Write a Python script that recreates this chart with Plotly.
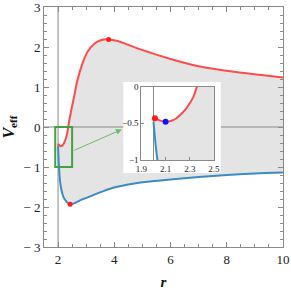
import plotly.graph_objects as go

# ---- data ----
r_upper = [2.0, 2.012, 2.05, 2.1, 2.15, 2.19, 2.23, 2.27, 2.33, 2.36, 2.45, 2.57, 2.69,
           2.87, 3.05, 3.29, 3.52, 3.8, 4.12, 4.36, 4.93, 6.0, 7.0, 8.26, 10.0]
v_upper = [-0.47, -0.43, -0.46, -0.48, -0.465, -0.43, -0.37, -0.30, -0.14, 0.0, 0.35, 0.76, 1.17,
           1.59, 1.88, 2.08, 2.17, 2.19, 2.15, 2.09, 1.94, 1.70, 1.52, 1.38, 1.24]
r_lower = [2.0, 2.01, 2.02, 2.033, 2.06, 2.1, 2.15, 2.2, 2.3, 2.43, 2.6, 2.8, 3.05, 3.4,
           3.9, 4.4, 4.93, 6.0, 7.0, 8.0, 9.0, 10.0]
v_lower = [-0.48, -0.66, -0.83, -1.0, -1.28, -1.5, -1.66, -1.76, -1.87, -1.93, -1.9, -1.83, -1.76, -1.66,
           -1.53, -1.45, -1.39, -1.31, -1.25, -1.2, -1.16, -1.14]
main_red_pts_r = [3.8, 2.43]
main_red_pts_v = [2.19, -1.93]
inset_red_pt = ([2.012], [-0.43])
inset_blue_pt = ([2.1], [-0.48])

x_ticks = [2, 4, 6, 8, 10]
y_ticks = [-3, -2, -1, 0, 1, 2, 3]
y_ticktext = ["\u2212 3", "\u2212 2", "\u2212 1", "0", "1", "2", "3"]
ix_ticks = [1.9, 2.1, 2.3, 2.5]
iy_ticks = [-1, -0.5, 0]
iy_ticktext = ["\u22121", "\u22120.5", "0"]

RED = "#ff4b4b"
BLUE = "#3a8cc2"
FILL = "#e4e4e4"
GRID = "#8a8a8a"
FONT = "Liberation Serif"

fig = go.Figure()

def add_fill(xa, ya):
    fig.add_trace(go.Scatter(x=r_lower, y=v_lower, mode="lines", line=dict(width=0, shape="spline", smoothing=0.8),
                             xaxis=xa, yaxis=ya, hoverinfo="skip"))
    fig.add_trace(go.Scatter(x=r_upper, y=v_upper, mode="lines", line=dict(width=0, shape="spline", smoothing=0.8),
                             fill="tonexty", fillcolor=FILL, xaxis=xa, yaxis=ya, hoverinfo="skip"))

# main fill
add_fill("x", "y")
# reference lines (main)
fig.add_trace(go.Scatter(x=[1.5, 10], y=[0, 0], mode="lines", line=dict(color=GRID, width=1), xaxis="x", yaxis="y"))
fig.add_trace(go.Scatter(x=[2, 2], y=[-3, 3], mode="lines", line=dict(color=GRID, width=1), xaxis="x", yaxis="y"))
# main curves
fig.add_trace(go.Scatter(x=r_lower, y=v_lower, mode="lines", line=dict(color=BLUE, width=2, shape="spline", smoothing=0.8),
                         xaxis="x", yaxis="y"))
fig.add_trace(go.Scatter(x=r_upper, y=v_upper, mode="lines", line=dict(color=RED, width=2, shape="spline", smoothing=0.8),
                         xaxis="x", yaxis="y"))
fig.add_trace(go.Scatter(x=main_red_pts_r, y=main_red_pts_v, mode="markers", marker=dict(color="#ff1a1a", size=5),
                         xaxis="x", yaxis="y"))
# white backdrop for inset
fig.add_trace(go.Scatter(x=[4.32, 7.79, 7.79, 4.32, 4.32], y=[-1.15, -1.15, 1.125, 1.125, -1.15], mode="lines",
                         fill="toself", fillcolor="white", line=dict(width=0), xaxis="x", yaxis="y"))

# inset
add_fill("x2", "y2")
fig.add_trace(go.Scatter(x=[2, 2], y=[-1, 0], mode="lines", line=dict(color=GRID, width=1), xaxis="x2", yaxis="y2"))
fig.add_trace(go.Scatter(x=r_lower, y=v_lower, mode="lines", line=dict(color=BLUE, width=2, shape="spline", smoothing=0.8),
                         xaxis="x2", yaxis="y2"))
fig.add_trace(go.Scatter(x=r_upper, y=v_upper, mode="lines", line=dict(color=RED, width=2, shape="spline", smoothing=0.8),
                         xaxis="x2", yaxis="y2"))
fig.add_trace(go.Scatter(x=inset_red_pt[0], y=inset_red_pt[1], mode="markers", marker=dict(color="#ff1a1a", size=6),
                         xaxis="x2", yaxis="y2"))
fig.add_trace(go.Scatter(x=inset_blue_pt[0], y=inset_blue_pt[1], mode="markers", marker=dict(color="#1010ff", size=6),
                         xaxis="x2", yaxis="y2"))

axis_common = dict(showgrid=False, zeroline=False, showline=True, linecolor=GRID, linewidth=1, automargin=False,
                   ticklabeloverflow="allow",
                   mirror="ticks", ticks="inside", tickcolor=GRID, tickfont=dict(family=FONT, size=13, color="#222"))

fig.update_layout(
    width=291, height=291,
    margin=dict(l=44, r=8, t=7, b=44),
    paper_bgcolor="white", plot_bgcolor="white",
    showlegend=False,
    xaxis=dict(range=[1.5, 10], tickvals=x_ticks, ticklen=5,
               minor=dict(dtick=0.5, ticklen=3, tickcolor=GRID, ticks="inside"),
               title=dict(text="<b><i>r</i></b>", font=dict(family=FONT, size=15, color="#111"), standoff=10),
               **axis_common),
    yaxis=dict(range=[-3, 3], tickvals=y_ticks, ticktext=y_ticktext, ticklen=5,
               minor=dict(dtick=0.2, ticklen=3, tickcolor=GRID, ticks="inside"),
               title=dict(text="<b><i>V</i><sub>eff</sub></b>", font=dict(family=FONT, size=16, color="#111"), standoff=6),
               **axis_common),
    xaxis2=dict(domain=[0.4075, 0.711], anchor="y2", range=[1.9, 2.5], tickvals=ix_ticks, ticklen=3, automargin=False,
                ticklabeloverflow="allow",
                showgrid=False, zeroline=False, showline=True, linecolor=GRID, mirror=True, ticks="inside",
                tickcolor=GRID, tickfont=dict(family=FONT, size=9, color="#222")),
    yaxis2=dict(domain=[0.3625, 0.668], anchor="x2", range=[-1, 0], tickvals=iy_ticks, ticktext=iy_ticktext, ticklen=3,
                automargin=False, ticklabeloverflow="allow",
                showgrid=False, zeroline=False, showline=True, linecolor=GRID, mirror=True, ticks="inside",
                tickcolor=GRID, tickfont=dict(family=FONT, size=9, color="#222")),
    shapes=[dict(type="rect", xref="x", yref="y", x0=1.9, x1=2.5, y0=-1, y1=0,
                 line=dict(color="#43a043", width=2), layer="above")],
    annotations=[dict(x=4.27, y=-0.06, ax=2.52, ay=-0.6, xref="x", yref="y", axref="x", ayref="y",
                      showarrow=True, arrowhead=2, arrowsize=1.2, arrowwidth=1, arrowcolor="#6cbb6c", text="")],
)

fig.write_html("out.html", config={"displayModeBar": False},
               post_script="document.body.style.margin='0';document.body.style.overflow='hidden';")
